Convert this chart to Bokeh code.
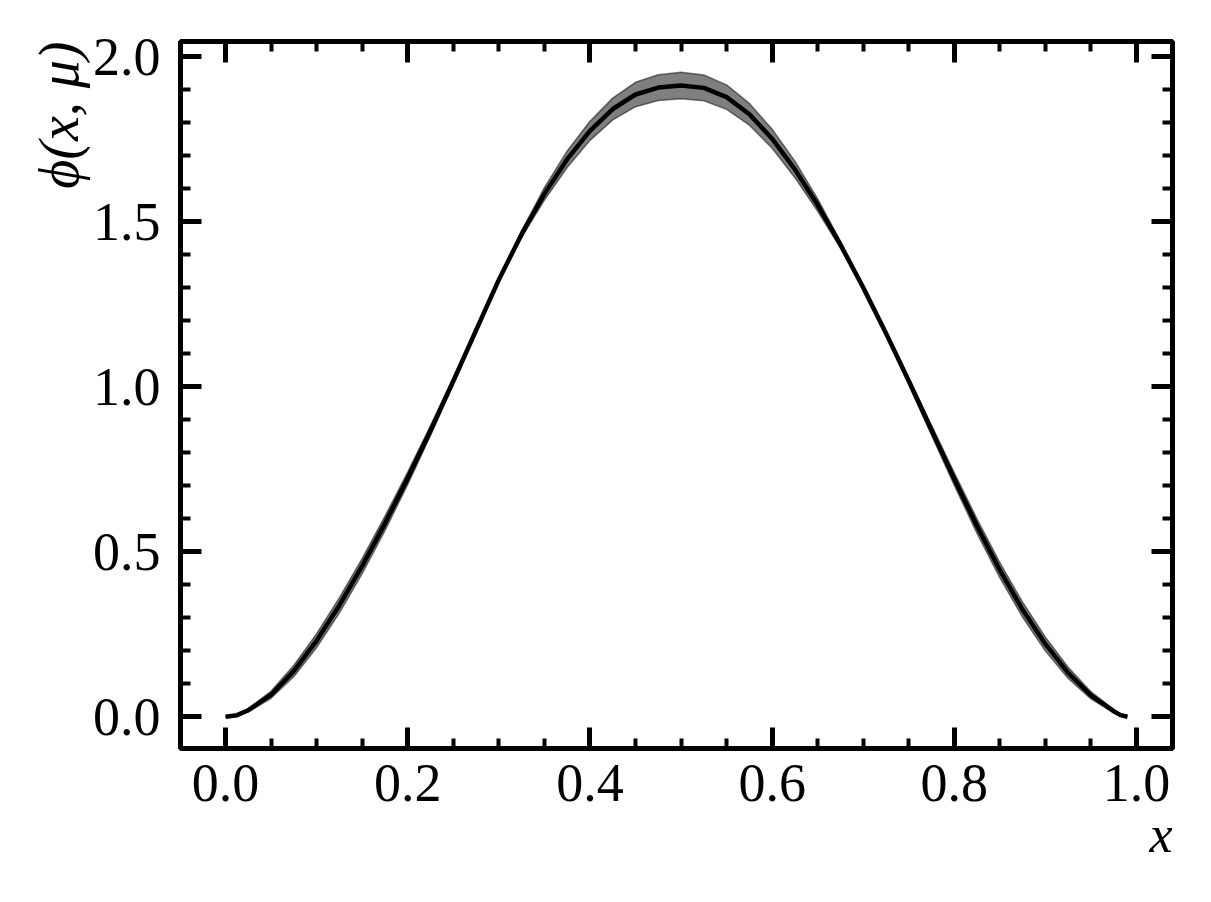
import numpy as np
from bokeh.plotting import figure
from bokeh.models import (FixedTicker, LinearAxis, Range1d, Title,
                          NumeralTickFormatter, ColumnDataSource)
from bokeh.embed import file_html
from bokeh.resources import INLINE

# ---- data ----
x_vals = [0.000, 0.0125, 0.025, 0.050, 0.075, 0.100, 0.125, 0.150, 0.175, 0.200,
          0.225, 0.250, 0.275, 0.300, 0.325, 0.350, 0.375, 0.400, 0.425, 0.450,
          0.475, 0.500, 0.525, 0.550, 0.575, 0.600, 0.625, 0.650, 0.675, 0.700,
          0.725, 0.750, 0.775, 0.800, 0.825, 0.850, 0.875, 0.900, 0.925, 0.950,
          0.975, 0.9825, 0.990]
phi_mean = [0.000, 0.005, 0.020, 0.067, 0.139, 0.231, 0.338, 0.457, 0.586, 0.723,
            0.867, 1.017, 1.171, 1.324, 1.462, 1.584, 1.689, 1.775, 1.841, 1.885,
            1.906, 1.912, 1.905, 1.877, 1.825, 1.751, 1.658, 1.550, 1.430, 1.300,
            1.162, 1.017, 0.868, 0.720, 0.577, 0.444, 0.324, 0.220, 0.133, 0.065,
            0.017, 0.005, 0.000]
phi_band = [0.000, 0.002, 0.005, 0.011, 0.017, 0.021, 0.023, 0.023, 0.022, 0.019,
            0.015, 0.010, 0.005, 0.002, 0.010, 0.019, 0.025, 0.029, 0.033, 0.037,
            0.039, 0.040, 0.039, 0.037, 0.033, 0.029, 0.025, 0.019, 0.010, 0.002,
            0.005, 0.010, 0.015, 0.019, 0.022, 0.023, 0.023, 0.021, 0.017, 0.011,
            0.005, 0.002, 0.000]

x_major = [0.0, 0.2, 0.4, 0.6, 0.8, 1.0]
x_minor = [round(0.05 * i, 2) for i in range(-1, 21)]
y_major = [0.0, 0.5, 1.0, 1.5, 2.0]
y_minor = [round(0.1 * i, 1) for i in range(-1, 21)]

mean = np.array(phi_mean)
band = np.array(phi_band)
src = ColumnDataSource(dict(x=x_vals, y=mean, lo=mean - band, hi=mean + band))

FONT = "Liberation Serif"

p = figure(width=1195, height=890, output_backend="svg", toolbar_location=None,
           x_range=Range1d(-0.0495, 1.0395), y_range=Range1d(-0.096, 2.0455),
           min_border_left=180, min_border_right=23, min_border_top=41,
           min_border_bottom=142)
p.grid.visible = False
p.background_fill_color = "white"
p.border_fill_color = "white"
p.outline_line_color = "black"
p.outline_line_width = 5

p.varea(x="x", y1="lo", y2="hi", source=src, fill_color="black", fill_alpha=0.5)
p.line(x="x", y="lo", source=src, line_color="black", line_alpha=0.5, line_width=1.5)
p.line(x="x", y="hi", source=src, line_color="black", line_alpha=0.5, line_width=1.5)
p.line(x="x", y="y", source=src, line_color="black", line_width=4.5,
       line_join="round")

def style(ax, ticks, minor, labels):
    ax.ticker = FixedTicker(ticks=ticks, minor_ticks=minor)
    ax.axis_line_color = "black"
    ax.axis_line_width = 5
    ax.major_tick_line_color = "black"
    ax.major_tick_line_width = 5
    ax.minor_tick_line_color = "black"
    ax.minor_tick_line_width = 4
    ax.major_tick_in = 21
    ax.major_tick_out = 0
    ax.minor_tick_in = 10
    ax.minor_tick_out = 0
    ax.formatter = NumeralTickFormatter(format="0.0")
    if labels:
        ax.major_label_text_font = FONT
        ax.major_label_text_font_size = "54px"
        ax.major_label_text_color = "black"
    else:
        ax.major_label_text_font_size = "0px"
        ax.major_label_text_alpha = 0

style(p.xaxis[0], x_major, x_minor, True)
style(p.yaxis[0], y_major, y_minor, True)
p.xaxis[0].major_label_standoff = 16
p.yaxis[0].major_label_standoff = 20

top = LinearAxis()
style(top, x_major, x_minor, False)
p.add_layout(top, "above")
right = LinearAxis()
style(right, y_major, y_minor, False)
p.add_layout(right, "right")

p.add_layout(Title(text="ϕ(x, μ)", align="right", text_font=FONT,
                   text_font_style="italic", text_font_size="56px",
                   text_color="black", standoff=0, offset=0), "left")
p.add_layout(Title(text="x", align="right", text_font=FONT,
                   text_font_style="italic", text_font_size="52px",
                   text_color="black", standoff=0, offset=0), "below")

open("out.html", "w").write(file_html(p, INLINE))
